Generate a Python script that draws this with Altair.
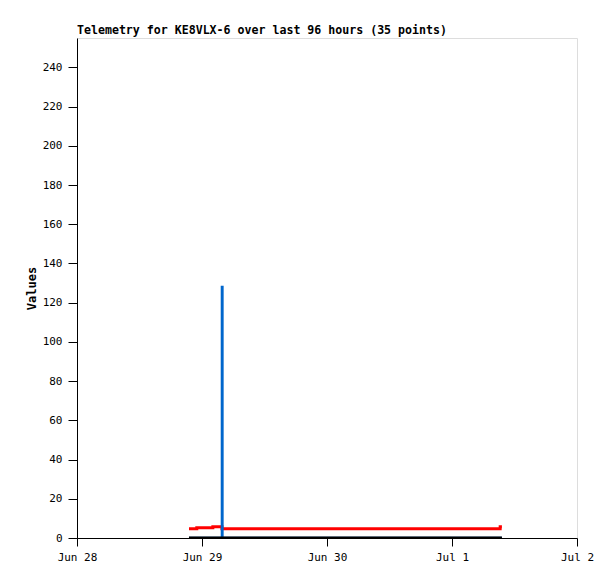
import altair as alt
import pandas as pd

times = [
    "2024-06-28T21:30:00Z", "2024-06-28T22:15:00Z", "2024-06-28T23:00:00Z", "2024-06-28T23:45:00Z",
    "2024-06-29T00:30:00Z", "2024-06-29T01:15:00Z", "2024-06-29T02:05:00Z", "2024-06-29T02:50:00Z",
    "2024-06-29T03:50:00Z", "2024-06-29T03:55:00Z",
    "2024-06-29T05:10:00Z", "2024-06-29T07:20:00Z", "2024-06-29T09:30:00Z", "2024-06-29T11:40:00Z",
    "2024-06-29T13:50:00Z", "2024-06-29T16:00:00Z", "2024-06-29T18:10:00Z", "2024-06-29T20:20:00Z",
    "2024-06-29T22:30:00Z",
    "2024-06-30T00:40:00Z", "2024-06-30T02:50:00Z", "2024-06-30T05:00:00Z", "2024-06-30T07:10:00Z",
    "2024-06-30T09:20:00Z", "2024-06-30T11:30:00Z", "2024-06-30T13:40:00Z", "2024-06-30T15:50:00Z",
    "2024-06-30T18:00:00Z", "2024-06-30T20:10:00Z", "2024-06-30T22:20:00Z",
    "2024-07-01T00:30:00Z", "2024-07-01T02:40:00Z", "2024-07-01T04:50:00Z", "2024-07-01T09:15:00Z",
    "2024-07-01T09:35:00Z",
]
red_values = [4.7, 4.7, 5.2, 5.2, 5.2, 5.2, 5.7, 5.7, 4.7, 4.7,
              4.7, 4.7, 4.7, 4.7, 4.7, 4.7, 4.7, 4.7, 4.7,
              4.7, 4.7, 4.7, 4.7, 4.7, 4.7, 4.7, 4.7, 4.7, 4.7, 4.7,
              4.7, 4.7, 4.7, 5.7, 5.7]
blue_values = [0, 0, 0, 0, 0, 0, 0, 0, 128, 0,
               0, 0, 0, 0, 0, 0, 0, 0, 0,
               0, 0, 0, 0, 0, 0, 0, 0, 0, 0, 0,
               0, 0, 0, 0, 0]
black_values = [0] * 35

series_names = ["red", "blue", "black"]
series_colors = ["#ff0000", "#0066cc", "#000000"]
series_widths = [3, 2.5, 3]

x_ticks = ["2024-06-28T00:00:00Z", "2024-06-29T00:00:00Z", "2024-06-30T00:00:00Z",
           "2024-07-01T00:00:00Z", "2024-07-02T00:00:00Z"]
y_ticks = [0, 20, 40, 60, 80, 100, 120, 140, 160, 180, 200, 220, 240]

rows = []
for name, vals in zip(series_names, [red_values, blue_values, black_values]):
    for t, v in zip(times, vals):
        rows.append({"time": t, "value": v, "series": name})
df = pd.DataFrame(rows)

font = "DejaVu Sans Mono"

x_enc = alt.X(
    "time:T",
    scale=alt.Scale(type="utc", domain=[x_ticks[0], x_ticks[-1]]),
    axis=alt.Axis(values=x_ticks, labelExpr="utcFormat(datum.value, '%b %-d')", title=None,
                  grid=False, tickSize=8, labelPadding=5, domainColor="black",
                  tickColor="black", labelColor="black", labelFont=font, labelFontSize=11,
                  labelFlush=False, labelOverlap=False),
)
y_enc = alt.Y(
    "value:Q",
    scale=alt.Scale(domain=[0, 255], nice=False, zero=True),
    axis=alt.Axis(values=y_ticks, title="Values", grid=False, tickSize=9, labelPadding=6,
                  domainColor="black", tickColor="black", labelColor="black",
                  labelFont=font, labelFontSize=11, titleFont=font, titleFontSize=12,
                  titleFontWeight="bold", titleColor="black", titlePadding=4),
)

layers = []
for name, col, w in zip(series_names, series_colors, series_widths):
    layers.append(
        alt.Chart(df[df["series"] == name])
        .mark_line(color=col, strokeWidth=w, interpolate="step-after", clip=True)
        .encode(x=x_enc, y=y_enc)
    )

chart = alt.layer(*layers).properties(
    width=500,
    height=500,
    title=alt.TitleParams("Telemetry for KE8VLX-6 over last 96 hours (35 points)",
                          anchor="start", frame="group", font=font, fontSize=11.6,
                          fontWeight="bold", color="black", offset=1),
    autosize=alt.AutoSizeParams(type="none"),
    padding={"left": 69, "top": 30, "right": 30, "bottom": 33},
).configure_view(stroke="#666666", strokeWidth=1).configure(background="white")

chart.save("out.html", embed_options={"renderer": "svg", "actions": False})
